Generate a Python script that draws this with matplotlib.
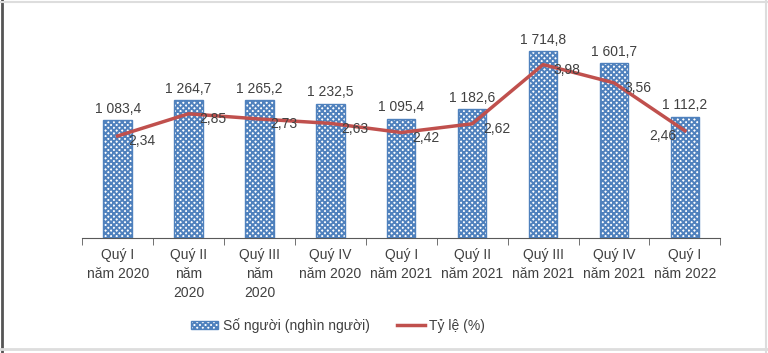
import matplotlib.pyplot as plt
import numpy as np

plt.rcParams['font.family'] = ['Liberation Sans', 'DejaVu Sans']
plt.rcParams['hatch.linewidth'] = 1.4

categories = ['Quý I\nnăm 2020', 'Quý II\nnăm\n2020', 'Quý III\nnăm\n2020', 'Quý IV\nnăm 2020',
              'Quý I\nnăm 2021', 'Quý II\nnăm 2021', 'Quý III\nnăm 2021', 'Quý IV\nnăm 2021',
              'Quý I\nnăm 2022']
so_nguoi = [1083.4, 1264.7, 1265.2, 1232.5, 1095.4, 1182.6, 1714.8, 1601.7, 1112.2]
ty_le = [2.34, 2.85, 2.73, 2.63, 2.42, 2.62, 3.98, 3.56, 2.46]

blue = '#4F81BD'
red = '#C0504D'
txt = '#404040'
fs = 10

fig = plt.figure(figsize=(7.68, 3.53), dpi=100)
ax = fig.add_axes([0.107, 0.326, 0.831, 0.617])
x = np.arange(len(categories))

bars = ax.bar(x, so_nguoi, width=0.4, color='white', edgecolor=blue, hatch='xxxxxx',
              linewidth=1.0, label='Số người (nghìn người)')
for xi, v in zip(x, so_nguoi):
    s = f'{v:,.1f}'.replace(',', ' ').replace('.', ',')
    ax.text(xi, v + 40, s, ha='center', va='bottom', fontsize=fs, color=txt)

ax.set_ylim(0, 2000)
ax.set_xlim(-0.5, len(categories) - 0.5)
ax.set_yticks([])
for sp in ['top', 'left', 'right']:
    ax.spines[sp].set_visible(False)
ax.spines['bottom'].set_color('#595959')
ax.set_xticks(x)
ax.set_xticklabels(categories, fontsize=fs, color=txt, linespacing=1.45)
ax.tick_params(axis='x', length=0, pad=7)
ax.set_xticks(np.arange(-0.5, len(categories)), minor=True)
ax.tick_params(axis='x', which='minor', length=5, color='#595959')

ax2 = ax.twinx()
line, = ax2.plot(x, ty_le, color=red, linewidth=2.5, label='Tỷ lệ (%)')
ax2.set_ylim(0, 5)
ax2.set_yticks([])
for sp in ['top', 'left', 'right', 'bottom']:
    ax2.spines[sp].set_visible(False)
for i, (xi, v) in enumerate(zip(x, ty_le)):
    s = f'{v:.2f}'.replace('.', ',')
    if i == len(x) - 1:
        ax2.text(xi - 0.12, v - 0.12, s, ha='right', va='center', fontsize=fs, color=txt)
    else:
        ax2.text(xi + 0.15, v - 0.12, s, ha='left', va='center', fontsize=fs, color=txt)

fig.legend([bars, line], ['Số người (nghìn người)', 'Tỷ lệ (%)'], loc='center',
           bbox_to_anchor=(0.44, 0.078), ncol=2, frameon=False, fontsize=fs,
           handlelength=2.0, handleheight=0.6, handletextpad=0.3, columnspacing=2.0,
           labelcolor=txt)

# light frame around the image
fig.add_artist(plt.Line2D([0.002, 0.002], [0, 1], color='#555555', lw=2, transform=fig.transFigure))
fig.add_artist(plt.Line2D([0, 1], [0.012, 0.012], color='#DDDDDD', lw=2, transform=fig.transFigure))
fig.add_artist(plt.Line2D([0, 1], [0.995, 0.995], color='#DDDDDD', lw=1.5, transform=fig.transFigure))
fig.add_artist(plt.Line2D([0.997, 0.997], [0, 1], color='#DDDDDD', lw=1.5, transform=fig.transFigure))

fig.savefig('out.png', dpi=100)
